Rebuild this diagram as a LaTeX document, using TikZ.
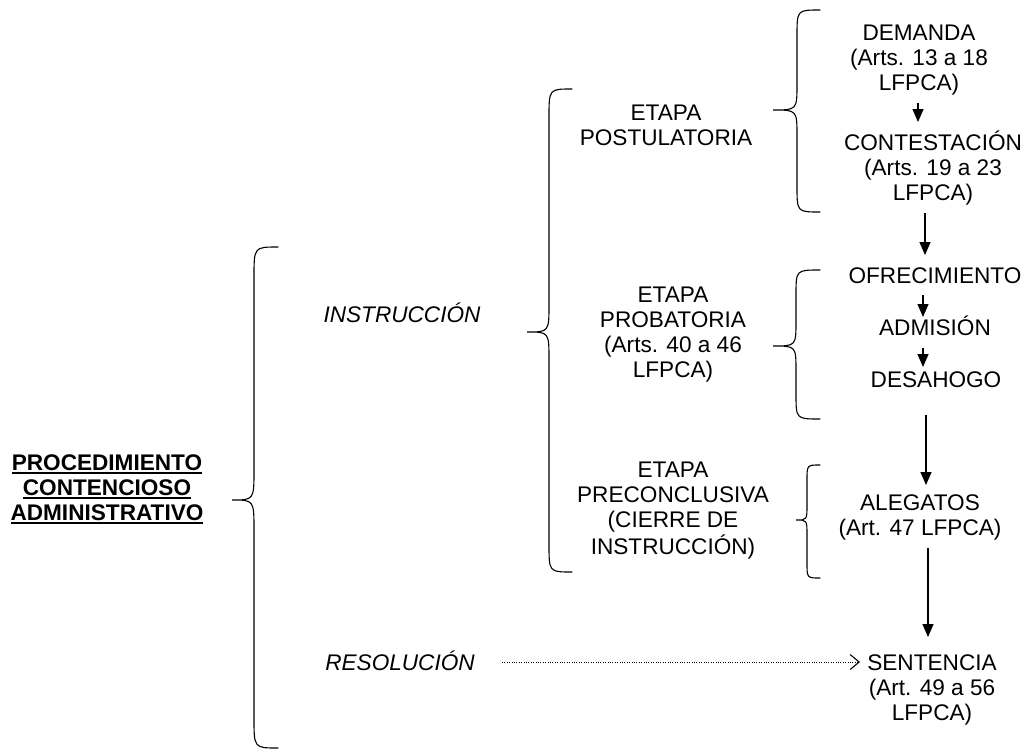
\documentclass[tikz,border=0pt]{standalone}
\usepackage{fontspec}
\setmainfont{Liberation Sans}
\usetikzlibrary{arrows.meta,calc}
\newcommand\ml[1]{\begin{tabular}[t]{@{}c@{}}#1\end{tabular}}
\newcommand\myul[1]{\setbox0\hbox{#1}\rlap{\rule[-3.5pt]{\wd0}{1.7pt}}\box0}
\newcommand\mybrace[7]{%
  \draw[bracestyle] (#1,#4) .. controls (#2,#4) .. (#2,#4+#7) -- (#2,#5-#7)
    .. controls (#2,#5) .. (#3,#5) .. controls (#2,#5) .. (#2,#5+#7)
    -- (#2,#6-#7) .. controls (#2,#6) .. (#1,#6);}
\tikzset{
  txt/.style={anchor=base, inner sep=0pt, font=\fontsize{22.6}{25}\selectfont},
  itxt/.style={txt, font=\fontsize{22.6}{25}\selectfont\itshape},
  bracestyle/.style={line width=1.1pt, line cap=round},
  arr/.style={line width=1.3pt, -{Triangle[width=11pt,length=13pt]}},
  dotarr/.style={line width=1pt, dash pattern=on 1pt off 1.4pt,
     -{Straight Barb[length=9pt,width=15pt,line width=1.1pt]}}
}
\begin{document}
\begin{tikzpicture}[x=1pt,y=-1pt]
\useasboundingbox (0,0) rectangle (1028,750);
% braces
\mybrace{278}{254}{232}{247}{500}{748}{30}
\mybrace{572}{549}{527}{89}{332}{572}{28}
\mybrace{820}{797}{773}{10}{110}{212}{26}
\mybrace{820}{796}{773}{270}{346}{419}{25}
\mybrace{820}{807}{796}{465}{520}{578}{15}
% title
\node[txt, font=\fontsize{22.6}{25}\selectfont\bfseries] (tit) at (107,470)
  {\ml{\myul{PROCEDIMIENTO}\\\myul{CONTENCIOSO}\\\myul{ADMINISTRATIVO}}};
% level 2
\node[itxt] (ins) at (402,322) {INSTRUCCIÓN};
\node[itxt] (res) at (400,670) {RESOLUCIÓN};
% level 3
\node[txt] (pos) at (666,120) {\ml{ETAPA\\POSTULATORIA}};
\node[txt] (pro) at (673,302) {\ml{ETAPA\\PROBATORIA\\(Arts. 40 a 46\\LFPCA)}};
\node[txt] (pre) at (673,477) {\ml{ETAPA\\PRECONCLUSIVA\\(CIERRE DE\\INSTRUCCIÓN)}};
% level 4
\node[txt] (dem) at (919,40) {\ml{DEMANDA\\(Arts. 13 a 18\\LFPCA)}};
\node[txt] (con) at (933,150) {\ml{CONTESTACIÓN\\(Arts. 19 a 23\\LFPCA)}};
\node[txt] (ofr) at (935,283) {OFRECIMIENTO};
\node[txt] (adm) at (935,335) {ADMISIÓN};
\node[txt] (des) at (936,387) {DESAHOGO};
\node[txt] (ale) at (920,510) {\ml{ALEGATOS\\(Art. 47 LFPCA)}};
\node[txt] (sen) at (932,670) {\ml{SENTENCIA\\(Art. 49 a 56\\LFPCA)}};
% arrows
\draw[arr] ($(dem.base)+(-1,63)$) -- ($(con.base)+(-15,-28)$);
\draw[arr] ($(con.base)+(-8,63)$) -- ($(ofr.base)+(-10,-28)$);
\draw[arr] ($(ofr.base)+(-12,12)$) -- ($(adm.base)+(-12,-18)$);
\draw[arr] ($(adm.base)+(-12,13)$) -- ($(des.base)+(-13,-20)$);
\draw[arr] ($(des.base)+(-10,28)$) -- ($(ale.base)+(6,-25)$);
\draw[arr] ($(ale.base)+(8,38)$) -- ($(sen.base)+(-4,-33)$);
\draw[dotarr] ($(res.base)+(102,-8)$) -- ($(sen.base)+(-72,-8)$);
\end{tikzpicture}
\end{document}
